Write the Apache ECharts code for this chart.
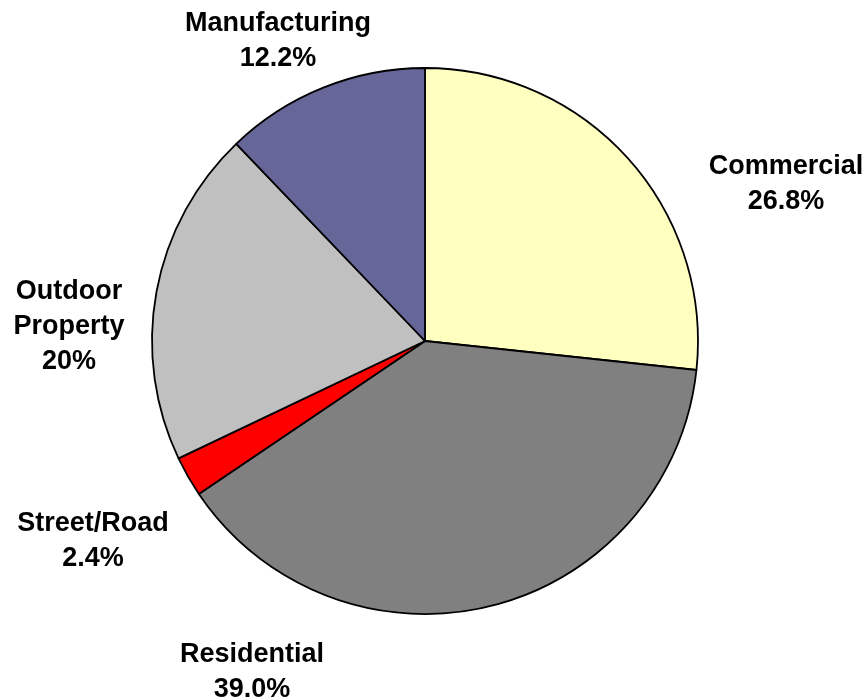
<!DOCTYPE html>
<html>
<head>
<meta charset="utf-8">
<script src="https://cdn.jsdelivr.net/npm/echarts@6/dist/echarts.min.js"></script>
<style>
  html, body { margin: 0; padding: 0; background: #fff; }
  #chart { width: 868px; height: 700px; }
</style>
</head>
<body>
<div id="chart"></div>
<script>
// slice data, clockwise from 12 o'clock
var categories = ['Commercial', 'Residential', 'Street/Road', 'Outdoor\nProperty', 'Manufacturing']
var values = [26.8, 39.0, 2.4, 20, 12.2]
var pctLabels = ['26.8%', '39.0%', '2.4%', '20%', '12.2%']
var colors = ['#FFFFC0', '#808080', '#FF0000', '#C0C0C0', '#666699']

// label spots (text block centres), placed like the original
var labelSpots = [[786, 184], [252, 672], [93, 541], [69, 327], [278, 41]]

var chart = echarts.init(document.getElementById('chart'))

chart.setOption({
  animation: false,
  series: [
    {
      type: 'pie',
      center: [425, 341],
      radius: [0, 273],
      startAngle: 90,
      clockwise: true,
      avoidLabelOverlap: false,
      itemStyle: {
        borderColor: '#000',
        borderWidth: 1.8
      },
      label: {
        show: true,
        position: 'outside',
        color: '#000',
        fontFamily: 'Liberation Sans, Arial, sans-serif',
        fontWeight: 'bold',
        fontSize: 27,
        lineHeight: 35,
        align: 'center',
        formatter: function (p) {
          return p.name + '\n' + pctLabels[p.dataIndex]
        }
      },
      labelLine: { show: false },
      labelLayout: function (p) {
        var s = labelSpots[p.dataIndex]
        return {
          x: s[0],
          y: s[1],
          align: 'center',
          verticalAlign: 'middle'
        }
      },
      emphasis: { disabled: true },
      data: categories.map(function (c, i) {
        return { name: c, value: values[i], itemStyle: { color: colors[i] } }
      })
    }
  ]
})
</script>
</body>
</html>
